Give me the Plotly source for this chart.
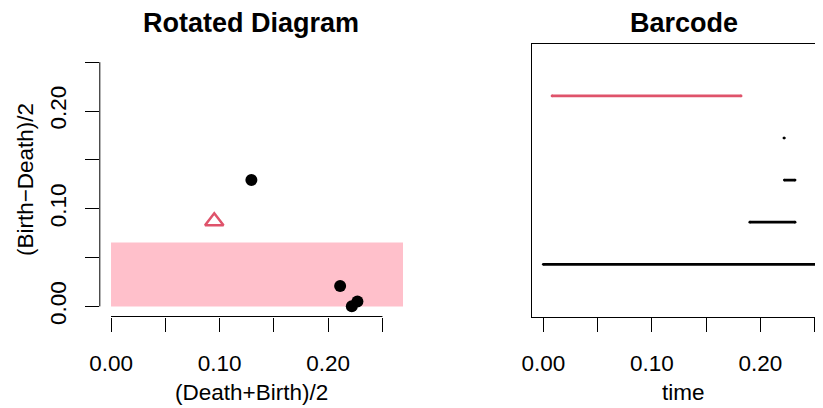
import plotly.graph_objects as go

# persistence data (birth, death, dimension)
birth = [0.0, 0.1902, 0.2220, 0.2216, 0.0080]
death = [0.2586, 0.2319, 0.2319, 0.2220, 0.1822]
dimension = [0, 0, 0, 0, 1]
bar_rank = [1, 2, 3, 4, 5]
band_height = 0.0653
max_scale = 0.2586

tick_vals = [0.0, 0.05, 0.10, 0.15, 0.20, 0.25]
tick_text = ["0.00", "", "0.10", "", "0.20", ""]

RED = "#DF536B"
FONT = "Liberation Sans"
OFF = 8  # page body margin
W, H = 823 - OFF, 408 - OFF


def px(x):
    return (x - OFF) / W


def py(y):
    return 1 - (y - OFF) / H


mid = [(b + d) / 2 for b, d in zip(birth, death)]
half = [(d - b) / 2 for b, d in zip(birth, death)]

fig = go.Figure()

lo, hi = -0.04 * max_scale, 1.04 * max_scale

# band
fig.add_trace(go.Scatter(x=[0, hi, hi, 0, 0], y=[0, 0, band_height, band_height, 0],
                         fill="toself", fillcolor="pink", mode="lines",
                         line=dict(width=0), hoverinfo="skip", showlegend=False,
                         xaxis="x", yaxis="y"))

d0 = [i for i, d in enumerate(dimension) if d == 0]
d1 = [i for i, d in enumerate(dimension) if d == 1]
fig.add_trace(go.Scatter(x=[mid[i] for i in d0], y=[half[i] for i in d0], mode="markers",
                         marker=dict(color="black", size=12, symbol="circle"),
                         showlegend=False, xaxis="x", yaxis="y"))
fig.add_trace(go.Scatter(x=[mid[i] for i in d1], y=[half[i] for i in d1], mode="markers",
                         marker=dict(color=RED, size=16, symbol="triangle-up-open",
                                     line=dict(color=RED, width=2.5)),
                         showlegend=False, xaxis="x", yaxis="y"))

# barcode (markers at the ends emulate round line caps)
LW = 2.7
for i in range(len(birth)):
    col = RED if dimension[i] == 1 else "black"
    fig.add_trace(go.Scatter(x=[birth[i], death[i]], y=[bar_rank[i], bar_rank[i]],
                             mode="lines+markers", line=dict(color=col, width=LW),
                             marker=dict(color=col, size=LW, line=dict(width=0)),
                             showlegend=False, xaxis="x2", yaxis="y2"))

ydom = [py(316.5), py(43.7)]
x1dom = [px(99.8), px(403.0)]
x2dom = [px(532.1), 1.0]
x2hi = lo + (823 - 532.1) / (303.2 / (hi - lo))

tickfont = dict(family=FONT, size=22.5, color="black")
common = dict(showgrid=False, zeroline=False, ticks="outside", ticklen=14, tickwidth=1,
              tickcolor="black", tickfont=tickfont, tickvals=tick_vals, ticktext=tick_text,
              automargin=False)

fig.update_layout(
    width=W, height=H, margin=dict(l=0, r=0, t=0, b=0),
    paper_bgcolor="white", plot_bgcolor="white", showlegend=False,
    xaxis=dict(domain=x1dom, range=[lo, hi], anchor="y", showline=False,
               ticklabelstandoff=12, **common),
    yaxis=dict(domain=ydom, range=[lo, hi], anchor="x", showline=False, tickangle=-90,
               ticklabelstandoff=10, **common),
    xaxis2=dict(domain=x2dom, range=[lo, x2hi], anchor="y2", showline=True, linecolor="black",
                linewidth=1, mirror=True, ticklabelstandoff=12, **common),
    yaxis2=dict(domain=ydom, range=[-0.24, 6.24], anchor="x2", showline=True, linecolor="black",
                linewidth=1, mirror=False, showgrid=False, zeroline=False, showticklabels=False,
                ticks="", automargin=False),
)

# R-style axis lines spanning only the ticks
fig.add_shape(type="line", xref="x", yref="y domain", x0=tick_vals[0], x1=tick_vals[-1], y0=0, y1=0,
              line=dict(color="black", width=1))
fig.add_shape(type="line", xref="x domain", yref="y", x0=0, x1=0, y0=tick_vals[0], y1=tick_vals[-1],
              line=dict(color="black", width=1))

bx = px((532.1 + 835.6) / 2)
ann = []
ann.append(dict(text="<b>Rotated Diagram</b>", xref="x domain", x=0.5, yref="paper", y=py(22.5),
                showarrow=False, font=dict(family=FONT, size=27, color="black"),
                xanchor="center", yanchor="middle"))
ann.append(dict(text="<b>Barcode</b>", xref="paper", x=bx, yref="paper", y=py(22.5),
                showarrow=False, font=dict(family=FONT, size=27, color="black"),
                xanchor="center", yanchor="middle"))
ann.append(dict(text="(Death+Birth)/2", xref="x domain", x=0.5, yref="paper", y=py(392),
                showarrow=False, font=dict(family=FONT, size=22.5, color="black"),
                xanchor="center", yanchor="middle"))
ann.append(dict(text="time", xref="paper", x=bx, yref="paper", y=py(392),
                showarrow=False, font=dict(family=FONT, size=22.5, color="black"),
                xanchor="center", yanchor="middle"))
ann.append(dict(text="(Birth\u2212Death)/2", xref="paper", x=px(25), yref="y domain", y=0.5,
                textangle=-90, showarrow=False, font=dict(family=FONT, size=22.5, color="black"),
                xanchor="center", yanchor="middle"))
fig.update_layout(annotations=ann)

fig.write_html("out.html")
